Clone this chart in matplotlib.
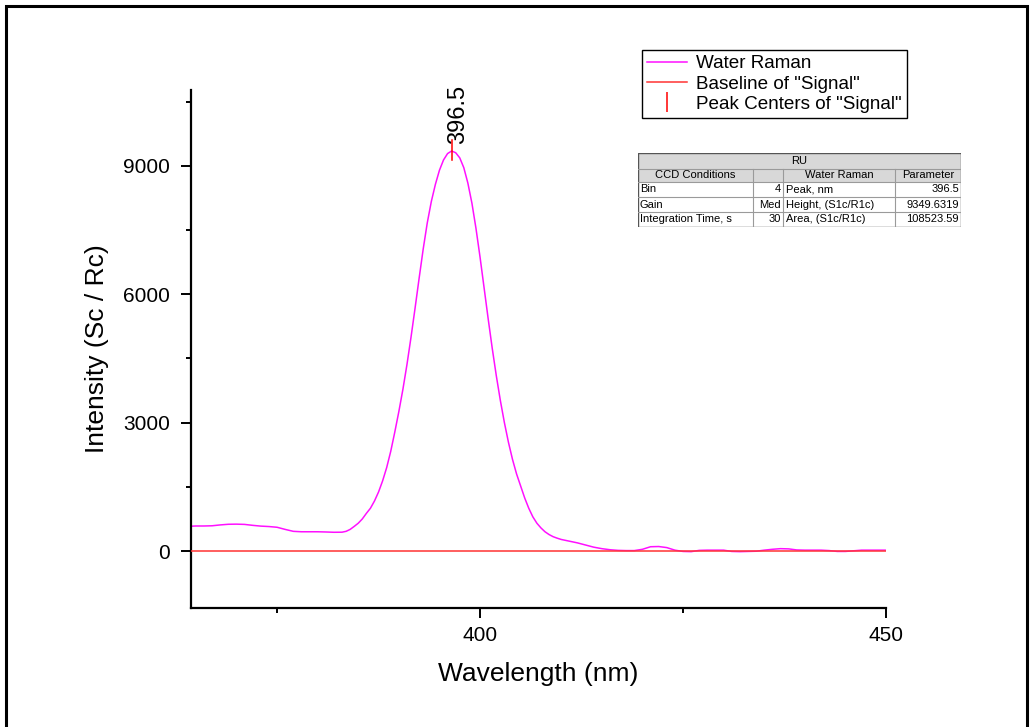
import numpy as np
import matplotlib.pyplot as plt
from matplotlib.lines import Line2D
from matplotlib.patches import Rectangle
from matplotlib.ticker import MultipleLocator

plt.rcParams['font.family'] = ['Liberation Sans', 'DejaVu Sans']

# spectrum
wavelength = [364.4, 365, 366, 367, 368, 369, 370, 371, 372, 373, 374, 375,
              376, 377, 378, 379, 380, 381, 382, 383, 383.5, 384, 384.5,
              385, 385.5, 386, 386.5, 387, 387.5, 388, 388.5, 389, 389.5,
              390, 390.5, 391, 391.5, 392, 392.5, 393, 393.5, 394, 394.5,
              395, 395.5, 396, 396.5, 397, 397.5, 398, 398.5, 399, 399.5,
              400, 400.5, 401, 401.5, 402, 402.5, 403, 403.5, 404, 404.5,
              405, 405.5, 406, 406.5, 407, 407.5, 408, 408.5, 409, 409.5,
              410, 410.5, 411, 412, 413, 414, 415, 416, 417, 418, 419, 420,
              421, 422, 423, 424, 425, 426, 427, 428, 429, 430, 431, 432,
              433, 434, 435, 436, 437, 438, 439, 440, 441, 442, 443, 444,
              445, 446, 447, 448, 449, 449.9]
intensity = [580, 585, 585, 590, 610, 625, 628, 622, 600, 582, 572, 555,
             505, 460, 450, 450, 450, 445, 438, 440, 460, 505, 575,
             650, 750, 880, 1000, 1170, 1380, 1640, 1950, 2330, 2780,
             3260, 3780, 4360, 5000, 5680, 6380, 7060, 7670, 8170, 8570,
             8900, 9140, 9290, 9350, 9310, 9190, 8960, 8600, 8130, 7540,
             6870, 6150, 5430, 4740, 4100, 3520, 3000, 2540, 2140, 1800,
             1520, 1240, 1000, 800, 650, 540, 450, 385, 335, 300,
             270, 250, 230, 190, 140, 90, 55, 30, 15, 10, 10, 40,
             100, 105, 80, 20, -10, -15, 15, 20, 20, 20, -10, -15,
             -10, -5, 20, 40, 55, 50, 25, 20, 20, 20, 10, -10,
             -10, 5, 20, 20, 20, 20]

peak_center = 396.5
peak_height = 9349.6319

legend_labels = ['Water Raman', 'Baseline of "Signal"', 'Peak Centers of "Signal"']

table_title = 'RU'
table_header = ['CCD Conditions', '', 'Water Raman', 'Parameter']
ccd_names = ['Bin', 'Gain', 'Integration Time, s']
ccd_values = ['4', 'Med', '30']
param_names = ['Peak, nm', 'Height, (S1c/R1c)', 'Area, (S1c/R1c)']
param_values = ['396.5', '9349.6319', '108523.59']

W, H = 1032, 727
fig = plt.figure(figsize=(W / 100, H / 100), dpi=100)
ax = fig.add_axes([191 / W, 1 - 608 / H, (886 - 191) / W, (608 - 90) / H])

ax.plot(wavelength, intensity, color='#ff10ff', lw=1.1, zorder=2)
ax.axhline(0, color='#ff3333', lw=1.1, zorder=3)
ax.plot([peak_center, peak_center], [peak_height - 200, peak_height + 260],
        color='red', lw=1.1, zorder=4)
ax.annotate(f'{peak_center}', xy=(peak_center, peak_height + 260),
            xytext=(5, -3), textcoords='offset points', rotation=90,
            ha='center', va='bottom', fontsize=17)

ax.set_xlim(364.4, 450)
ax.set_ylim(-1332, 10776)
ax.xaxis.set_major_locator(MultipleLocator(50))
ax.xaxis.set_minor_locator(MultipleLocator(25))
ax.yaxis.set_major_locator(MultipleLocator(3000))
ax.yaxis.set_minor_locator(MultipleLocator(1500))
for s in ['top', 'right']:
    ax.spines[s].set_visible(False)
for s in ['left', 'bottom']:
    ax.spines[s].set_linewidth(1.6)
ax.tick_params(which='major', direction='out', length=7, width=1.4, labelsize=15)
ax.tick_params(which='minor', direction='out', length=3.6, width=1.4)
ax.tick_params(axis='x', pad=6)
ax.tick_params(axis='y', pad=8)
ax.set_xlabel('Wavelength (nm)', fontsize=19, labelpad=12)
ax.set_ylabel('Intensity (Sc / Rc)', fontsize=19, labelpad=10)

handles = [Line2D([], [], color='#ff10ff', lw=1.1),
           Line2D([], [], color='#ff3333', lw=1.1),
           Line2D([], [], color='red', marker='|', ls='None',
                  markersize=14, markeredgewidth=1.1)]
leg = fig.legend(handles, legend_labels, loc='upper left',
                 bbox_to_anchor=(642 / W, 1 - 50 / H), borderaxespad=0,
                 fontsize=13.6, frameon=True, fancybox=False, framealpha=1,
                 edgecolor='black', handlelength=2.1, handletextpad=0.5,
                 labelspacing=0.16, borderpad=0.27)
leg.get_frame().set_linewidth(1.0)

# parameter table
tw, th = 323, 74
tab = fig.add_axes([638 / W, 1 - 227 / H, tw / W, th / H])
tab.set_xlim(0, tw)
tab.set_ylim(th, 0)
tab.axis('off')
cols = [0, 115, 145, 257, 323]
rows = [0, 16, 29, 44, 59, 74]
gray = '#d8d8d8'
tab.add_patch(Rectangle((0, 0), tw, rows[2], facecolor=gray, edgecolor='none'))
for r in rows[1:-1]:
    tab.plot([0, tw], [r, r], color='#9a9a9a', lw=0.8)
for c in cols[1:-1]:
    tab.plot([c, c], [rows[1], th], color='#9a9a9a', lw=0.8)
tab.add_patch(Rectangle((0, 0), tw, th, facecolor='none', edgecolor='#555555', lw=1.0))
fs = 8
tab.text(tw / 2, rows[1] / 2, table_title, ha='center', va='center', fontsize=fs)
for i, txt in enumerate(table_header):
    tab.text((cols[i] + cols[i + 1]) / 2, (rows[1] + rows[2]) / 2, txt,
             ha='center', va='center', fontsize=fs)
for j in range(3):
    yc = (rows[j + 2] + rows[j + 3]) / 2
    tab.text(cols[0] + 2, yc, ccd_names[j], ha='left', va='center', fontsize=fs)
    tab.text(cols[2] - 2, yc, ccd_values[j], ha='right', va='center', fontsize=fs)
    tab.text(cols[2] + 3, yc, param_names[j], ha='left', va='center', fontsize=fs)
    tab.text(cols[4] - 2, yc, param_values[j], ha='right', va='center', fontsize=fs)

# outer frame
fig.patches.append(Rectangle((6 / W, -0.02), (1027 - 6) / W, 1.02 - 6 / H,
                             transform=fig.transFigure, fill=False,
                             edgecolor='black', lw=2.2))

fig.savefig('out.png', dpi=100)
